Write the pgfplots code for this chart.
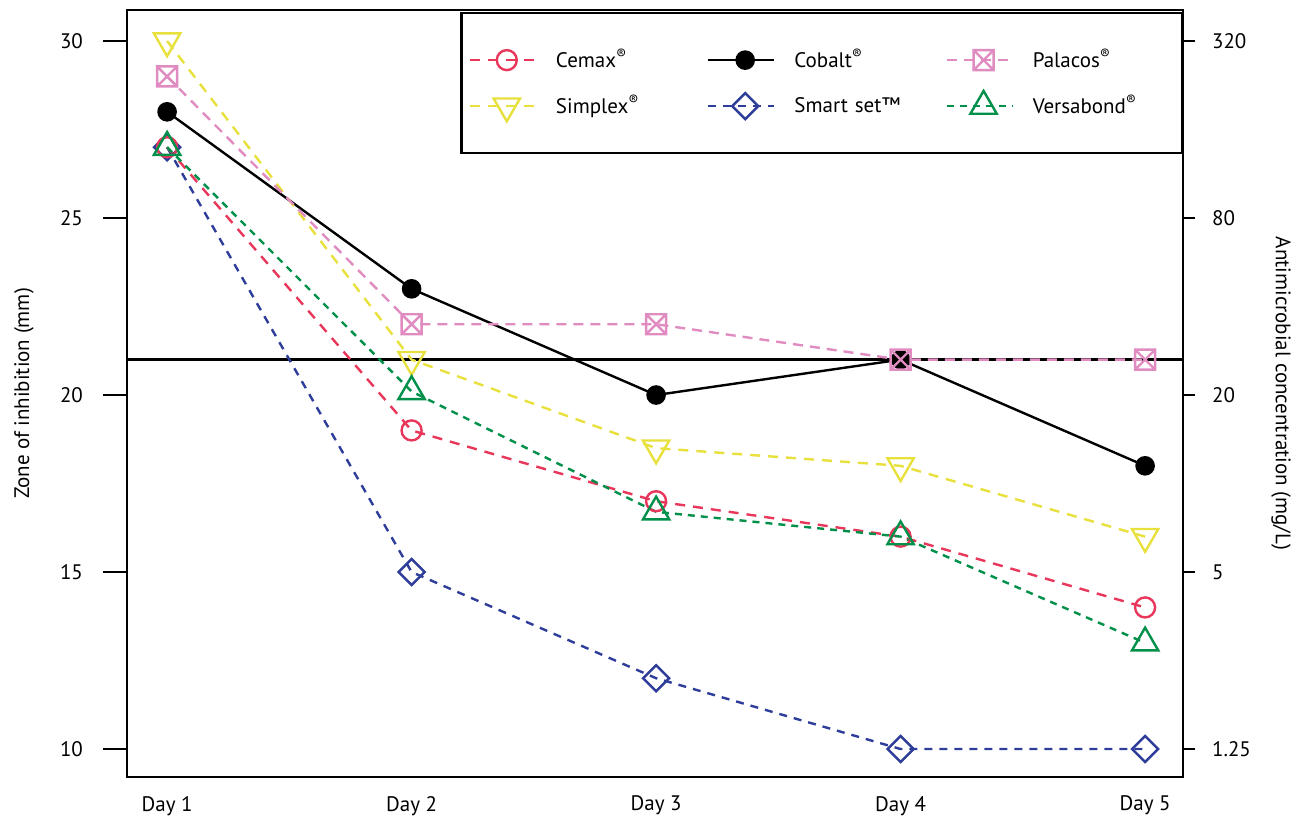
\documentclass[border=0pt]{standalone}
\usepackage{fontspec}
\setmainfont{PT Sans}
\usepackage{pgfplots}
\pgfplotsset{compat=1.18}
\definecolor{cred}{HTML}{E8375A}
\definecolor{cyel}{HTML}{E8E03C}
\definecolor{cblue}{HTML}{2E3D99}
\definecolor{cpink}{HTML}{E08CC0}
\definecolor{cgreen}{HTML}{00904A}
\pgfdeclareplotmark{boxx}{%
  \pgfpathrectangle{\pgfpoint{-\pgfplotmarksize}{-\pgfplotmarksize}}{\pgfpoint{2\pgfplotmarksize}{2\pgfplotmarksize}}%
  \pgfpathmoveto{\pgfpoint{-\pgfplotmarksize}{-\pgfplotmarksize}}%
  \pgfpathlineto{\pgfpoint{\pgfplotmarksize}{\pgfplotmarksize}}%
  \pgfpathmoveto{\pgfpoint{-\pgfplotmarksize}{\pgfplotmarksize}}%
  \pgfpathlineto{\pgfpoint{\pgfplotmarksize}{-\pgfplotmarksize}}%
  \pgfusepathqstroke}
\pgfplotsset{
  scemax/.style={cred, line width=1.2pt, dash pattern=on 5pt off 4pt, mark=o, mark size=5pt, mark options={solid, fill=white, line width=1.2pt}},
  scobalt/.style={black, line width=1.2pt, mark=*, mark size=4.3pt, mark options={solid, fill=black}},
  spalacos/.style={cpink, line width=1.2pt, dash pattern=on 5pt off 3.5pt, mark=boxx, mark size=5pt, mark options={solid, line width=1.2pt}},
  ssimplex/.style={cyel, line width=1.2pt, dash pattern=on 5pt off 4pt, mark=triangle, mark size=7.6pt, mark options={solid, fill=white, rotate=180, line width=1.2pt}},
  ssmart/.style={cblue, line width=1.2pt, dash pattern=on 4pt off 3.5pt, mark=square, mark size=4.6pt, mark options={solid, fill=white, rotate=45, line width=1.2pt}},
  sversa/.style={cgreen, line width=1.2pt, dash pattern=on 3.5pt off 3pt, mark=triangle, mark size=7.6pt, mark options={solid, fill=white, line width=1.2pt}},
}
\begin{document}
\begin{tikzpicture}
\begin{axis}[
  at={(0,0)}, anchor=south west,
  scale only axis, width=528pt, height=383.5pt,
  xmin=0.836, xmax=5.155, ymin=9.21, ymax=30.876,
  axis line style={line width=1.4pt},
  xtick={1,2,3,4,5}, xticklabels={Day 1,Day 2,Day 3,Day 4,Day 5},
  x tick style={draw=none},
  xticklabel style={font=\fontsize{10.5}{12}\selectfont, yshift=6pt},
  ytick={10,15,20,25,30},
  ytick pos=left,
  y tick style={line width=1.3pt, black},
  tick align=outside, major tick length=12pt,
  yticklabel style={font=\fontsize{10.5}{12}\selectfont, xshift=-6.5pt},
  /pgf/number format/assume math mode=true,
  ylabel={Zone of inhibition (mm)},
  ylabel style={at={(axis description cs:-0.0975,0.5)}, anchor=center, font=\fontsize{10.5}{12}\selectfont},
  legend columns=3,
  legend cell align=left,
  legend style={at={(rel axis cs:1,0.9975)}, anchor=north east, draw=black, line width=1.2pt,
     inner xsep=3.5pt, inner ysep=12pt,
     font=\fontsize{10.5}{12}\selectfont,
     nodes={text width=71pt, inner sep=0pt, minimum height=23pt, anchor=west},
     /tikz/every odd column/.append style={column sep=9.5pt},
     /tikz/every even column/.append style={column sep=4.5pt}},
  legend image code/.code={%
    \draw[#1, mark=none] (0pt,0pt) -- (33pt,0pt);
    \draw[#1, only marks] plot coordinates {(18.5pt,0pt)};},
  clip=false,
]
\addplot[black, line width=1.2pt, forget plot] coordinates {(0.836,21) (5.155,21)};
\addplot[ssmart, forget plot] coordinates {(1,27) (2,15) (3,12) (4,10) (5,10)};
\addplot[scemax, forget plot] coordinates {(1,27) (2,19) (3,17) (4,16) (5,14)};
\addplot[scobalt, forget plot] coordinates {(1,28) (2,23) (3,20) (4,21) (5,18)};
\addplot[ssimplex, forget plot] coordinates {(1,30) (2,21) (3,18.5) (4,18) (5,16)};
\addplot[spalacos, forget plot] coordinates {(1,29) (2,22) (3,22) (4,21) (5,21)};
\addplot[sversa, forget plot] coordinates {(1,27) (2,20.1) (3,16.7) (4,16) (5,13)};
\addlegendimage{scemax}\addlegendentry{Cemax\textsuperscript{®}}
\addlegendimage{scobalt}\addlegendentry{Cobalt\textsuperscript{®}}
\addlegendimage{spalacos}\addlegendentry{Palacos\textsuperscript{®}}
\addlegendimage{ssimplex}\addlegendentry{Simplex\textsuperscript{®}}
\addlegendimage{ssmart}\addlegendentry{Smart set™}
\addlegendimage{sversa}\addlegendentry{Versabond\textsuperscript{®}}
\end{axis}
\begin{axis}[
  at={(0,0)}, anchor=south west,
  scale only axis, width=528pt, height=383.5pt,
  xmin=0.836, xmax=5.155, ymin=9.21, ymax=30.876,
  axis x line=none,
  axis y line*=right,
  axis line style={line width=1.4pt},
  ytick={10,15,20,25,30},
  yticklabels={1.25,5,20,80,320},
  y tick style={line width=1.3pt, black},
  tick align=outside, major tick length=6pt,
  yticklabel style={font=\fontsize{10.5}{12}\selectfont, xshift=5pt},
  /pgf/number format/assume math mode=true,
  ylabel={Antimicrobial concentration (mg/L)},
  ylabel style={at={(axis description cs:1.0928,0.5)}, anchor=center, rotate=180, font=\fontsize{10.5}{12}\selectfont},
]
\end{axis}
\pgfresetboundingbox
\path (-63.5pt,-19.5pt) rectangle (582.5pt,388.5pt);
\end{tikzpicture}
\end{document}
